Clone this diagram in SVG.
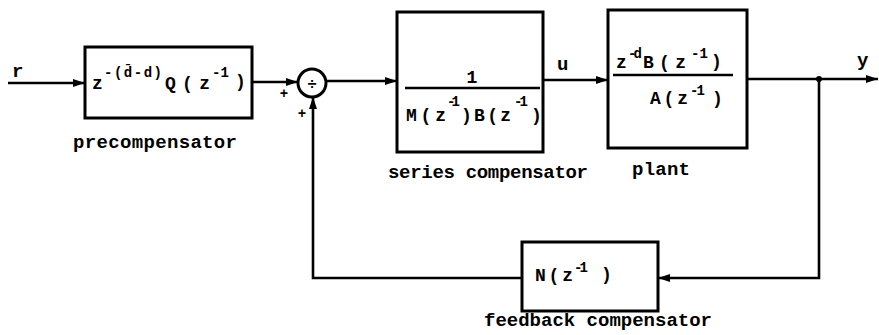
<svg xmlns="http://www.w3.org/2000/svg" width="879" height="335" viewBox="0 0 879 335">
<defs>
<marker id="ah" viewBox="0 0 12 8" refX="12" refY="4" markerWidth="12" markerHeight="8" markerUnits="userSpaceOnUse" orient="auto">
<path d="M0,0 L12,4 L0,8 z" fill="#000"/>
</marker>
<style>
.box{fill:none;stroke:#000;stroke-width:3}
.ln{fill:none;stroke:#000;stroke-width:2.6}
.t{font-family:"Liberation Mono","DejaVu Sans Mono",monospace;font-weight:bold;fill:#000}
.m{font-size:18px}
.s{font-size:14px}
.lb{font-size:19px}
</style>
</defs>
<rect width="879" height="335" fill="#fff"/>

<g id="connectors">
<path class="ln" d="M8 83 H85" marker-end="url(#ah)"/>
<path class="ln" d="M252 82 H298" marker-end="url(#ah)"/>
<path class="ln" d="M326 81 H397" marker-end="url(#ah)"/>
<path class="ln" d="M543 80 H608" marker-end="url(#ah)"/>
<path class="ln" d="M747 79 H878" marker-end="url(#ah)"/>
<path class="ln" d="M819 79 V278 H658" marker-end="url(#ah)"/>
<path class="ln" d="M522 278 H313 V97" marker-end="url(#ah)"/>
<circle cx="819" cy="79" r="3" fill="#000"/>
<text class="t lb" x="12" y="77">r</text>
<text class="t lb" x="557" y="70">u</text>
<text class="t lb" x="857" y="66">y</text>
</g>

<g id="precompensator">
<rect class="box" x="85" y="47" width="167" height="71"/>
<text class="t m" x="92" y="89">z</text>
<text class="t s" x="104" y="77" textLength="58" lengthAdjust="spacing">-(d̄-d)</text>
<text class="t m" x="165" y="89" textLength="45" lengthAdjust="spacing">Q(z</text>
<text class="t s" x="212" y="77" textLength="17" lengthAdjust="spacing">-1</text>
<text class="t m" x="235" y="87">)</text>
<text class="t lb" x="73" y="148" textLength="164" lengthAdjust="spacing">precompensator</text>
</g>

<g id="summer">
<circle cx="312" cy="83" r="14" fill="#fff" stroke="#000" stroke-width="3"/>
<text class="t" x="312" y="89" font-size="16" text-anchor="middle">÷</text>
<text class="t" x="284" y="98" font-size="14" text-anchor="middle">+</text>
<text class="t" x="302" y="118" font-size="14" text-anchor="middle">+</text>
</g>

<g id="series-compensator">
<rect class="box" x="397" y="12" width="146" height="140"/>
<text class="t m" x="472" y="83" text-anchor="middle">1</text>
<line class="ln" x1="405" y1="88" x2="540" y2="88"/>
<text class="t m" x="406" y="121" textLength="40" lengthAdjust="spacing">M(z</text>
<text class="t s" x="447" y="106" textLength="13" lengthAdjust="spacing">-1</text>
<text class="t m" x="461" y="121" textLength="50" lengthAdjust="spacing">)B(z</text>
<text class="t s" x="514" y="106" textLength="14" lengthAdjust="spacing">-1</text>
<text class="t m" x="531" y="121">)</text>
<text class="t lb" x="388" y="178" textLength="200" lengthAdjust="spacing">series compensator</text>
</g>

<g id="plant">
<rect class="box" x="608" y="10" width="139" height="138"/>
<text class="t m" x="616" y="68">z</text>
<text class="t s" x="628" y="58" textLength="14" lengthAdjust="spacing">-d</text>
<text class="t m" x="643" y="68" textLength="43" lengthAdjust="spacing">B(z</text>
<text class="t s" x="691" y="58" textLength="17" lengthAdjust="spacing">-1</text>
<text class="t m" x="711" y="67">)</text>
<line class="ln" x1="613" y1="75" x2="733" y2="75"/>
<text class="t m" x="650" y="104" textLength="38" lengthAdjust="spacing">A(z</text>
<text class="t s" x="690" y="95" textLength="15" lengthAdjust="spacing">-1</text>
<text class="t m" x="712" y="104">)</text>
<text class="t lb" x="632" y="175" textLength="58" lengthAdjust="spacing">plant</text>
</g>

<g id="feedback-compensator">
<rect class="box" x="522" y="242" width="136" height="69"/>
<text class="t m" x="535" y="281" textLength="38" lengthAdjust="spacing">N(z</text>
<text class="t s" x="574" y="272" textLength="14" lengthAdjust="spacing">-1</text>
<text class="t m" x="601" y="280">)</text>
<text class="t lb" x="484" y="326" textLength="228" lengthAdjust="spacing">feedback compensator</text>
</g>
</svg>
